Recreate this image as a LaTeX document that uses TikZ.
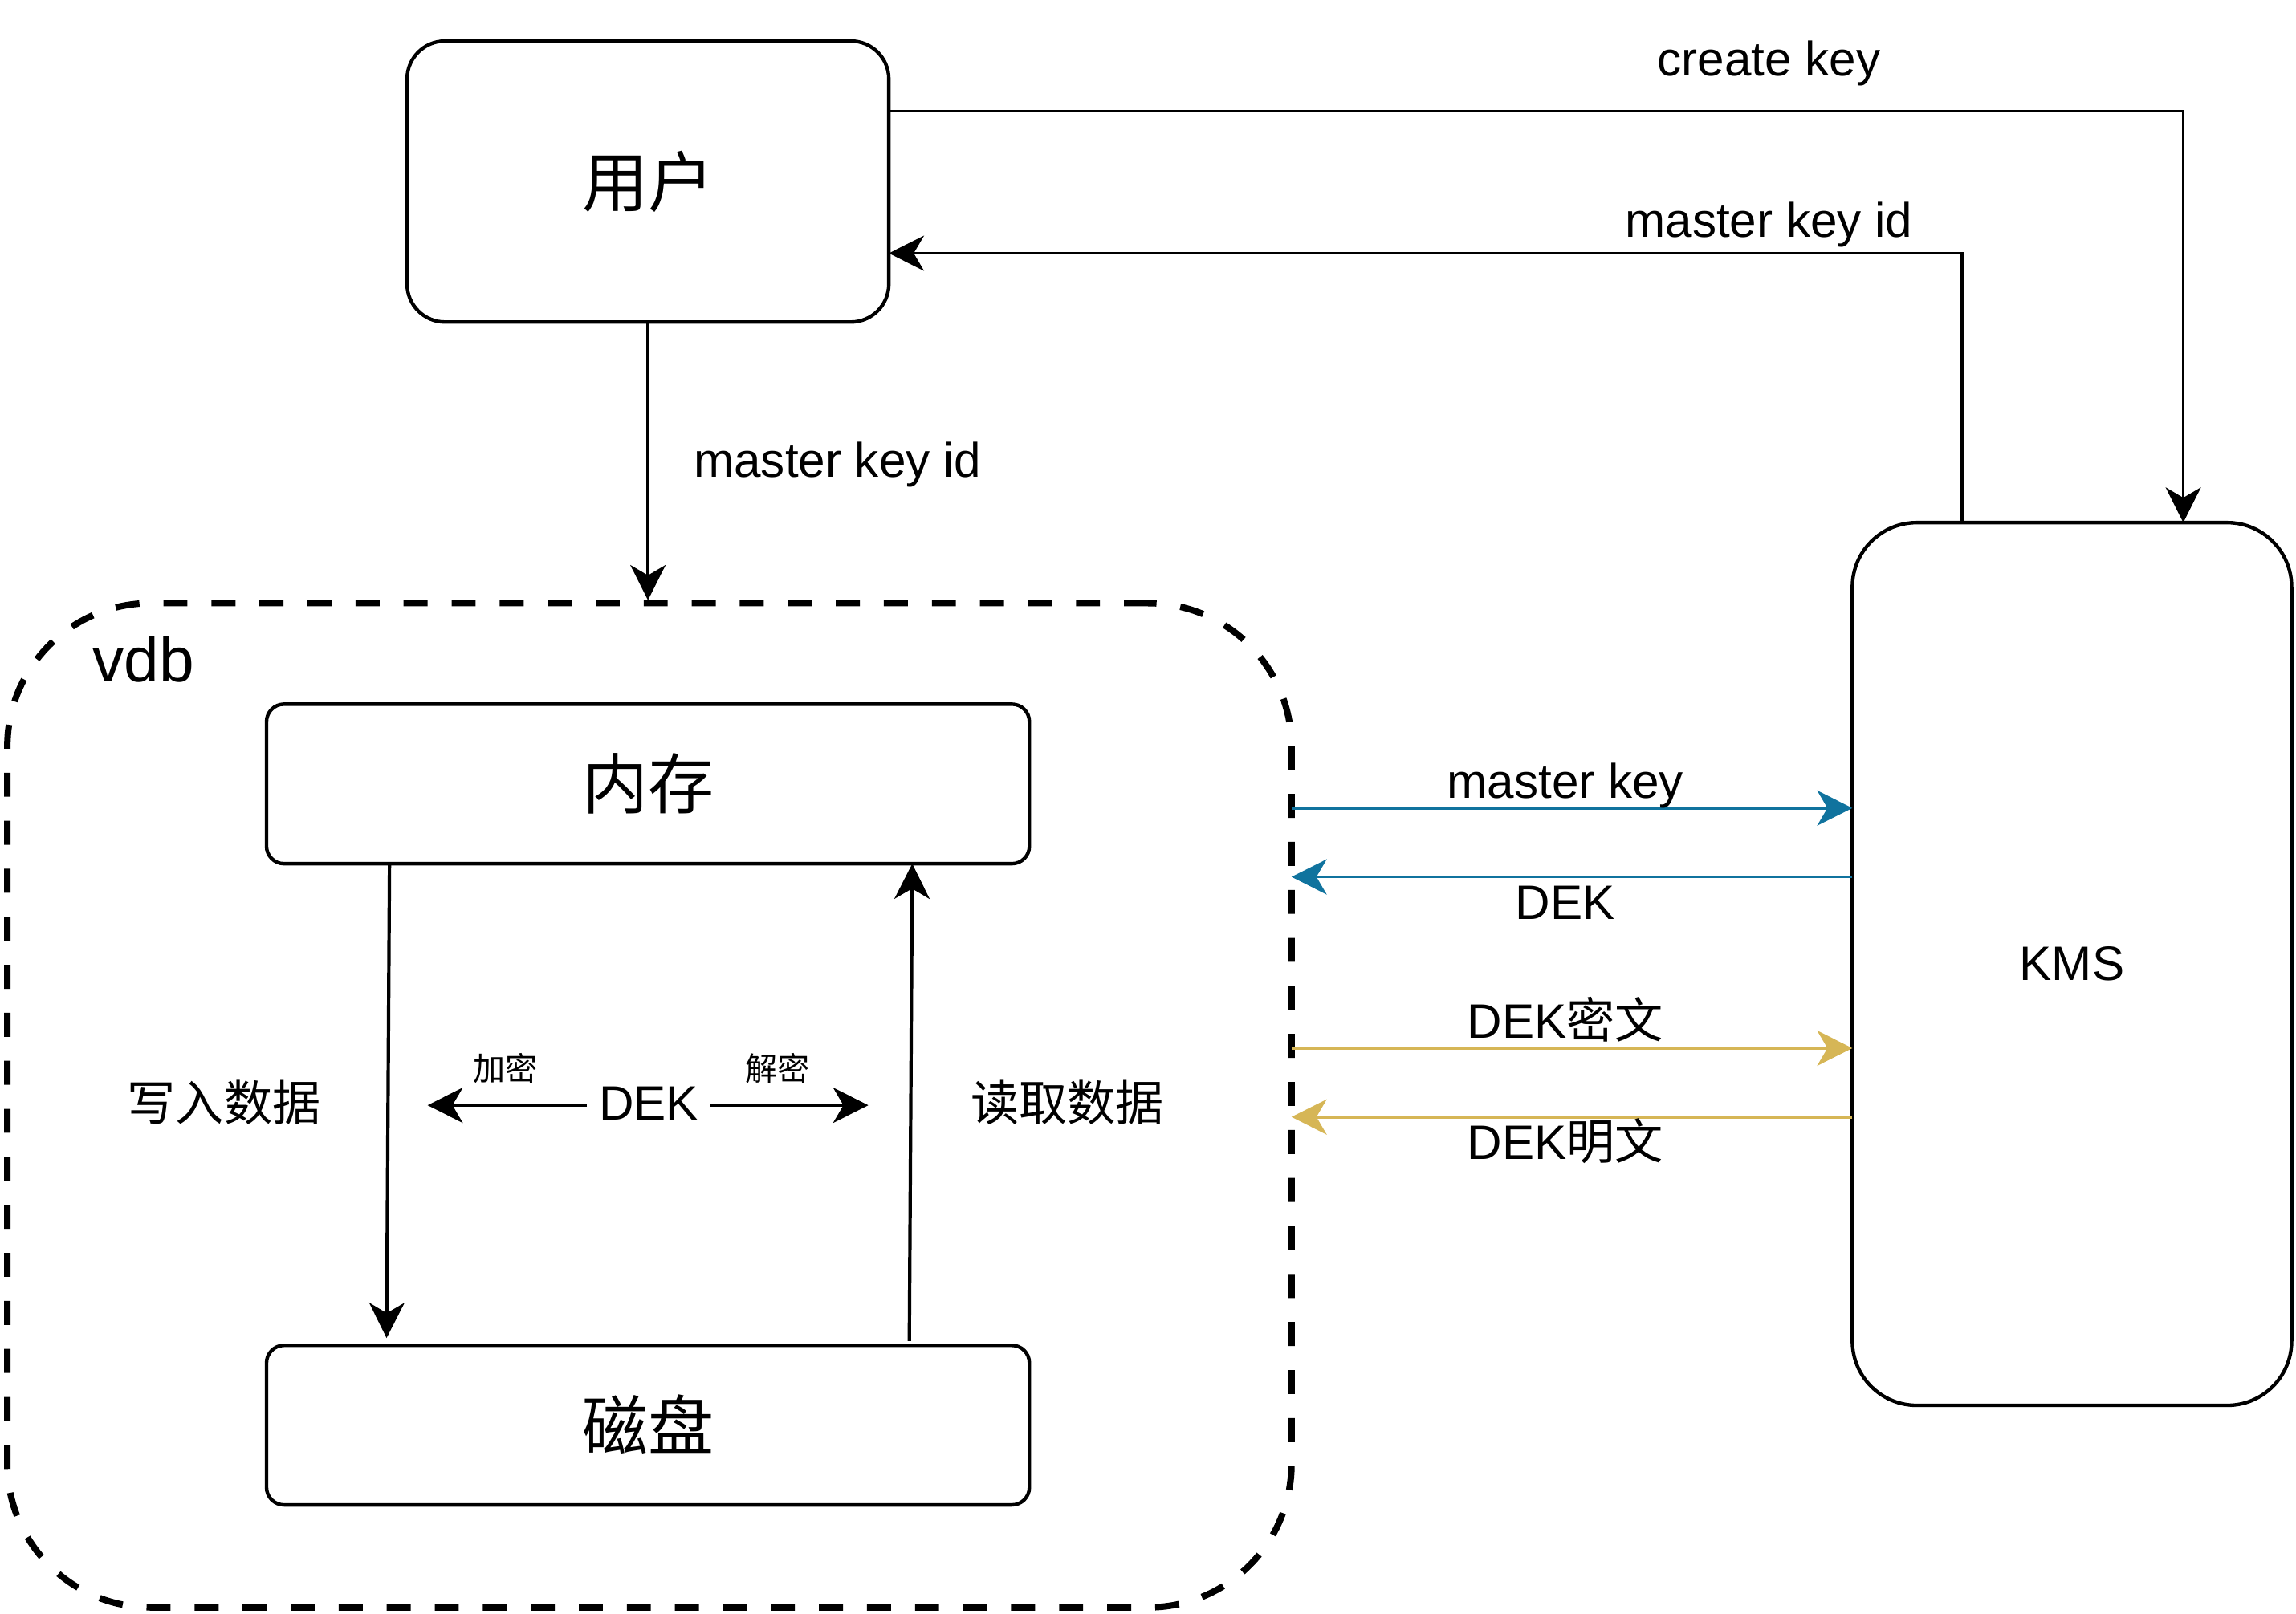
\documentclass[tikz,border=0pt]{standalone}
\usepackage{fontspec}
\setmainfont{Liberation Sans}
\newfontfamily\cjk{Noto Sans CJK SC}
\usetikzlibrary{arrows.meta}
\definecolor{dblue}{HTML}{10739E}
\definecolor{dyellow}{HTML}{D6B656}
\begin{document}
\begin{tikzpicture}[x=1pt,y=-1pt,
  box/.style={draw=black,line width=2.4pt,fill=white,inner sep=0pt,outer sep=0pt,align=center},
  lbl/.style={font=\fontsize{33pt}{40pt}\selectfont,inner sep=0pt},
  tipc/.style={-{Stealth[length=24pt,width=24pt,inset=7pt]}},
  arr/.style={tipc,line width=2pt,draw=black},
  arrin/.style={tipc,line width=2.3pt,draw=black},
  barr/.style={tipc,line width=2pt,draw=dblue,color=dblue},
  yarr/.style={tipc,line width=2pt,draw=dyellow,color=dyellow}]
\fill[white] (0,0) rectangle (1568,1102);
\useasboundingbox (0,0) rectangle (1568,1102);

% boxes
\node[box,rounded corners=26pt,minimum width=329pt,minimum height=192pt,font=\fontsize{45pt}{54pt}\selectfont\cjk] (user) at (442.5,124) {\raisebox{2pt}{用户}};
\node[box,rounded corners=44pt,minimum width=300pt,minimum height=603pt,font=\fontsize{33pt}{40pt}\selectfont] (kms) at (1415,658.5) {KMS};
\node[draw=black,line width=4.4pt,dash pattern=on 16.4pt off 16.4pt,rounded corners=98pt,inner sep=0pt,outer sep=0pt,minimum width=877pt,minimum height=686pt] (vdb) at (443.5,755) {};
\node[anchor=base west,inner sep=0pt,font=\fontsize{43pt}{50pt}\selectfont] (vdblbl) at (63,466) {vdb};
\node[box,rounded corners=12pt,minimum width=521pt,minimum height=109pt,font=\fontsize{45pt}{54pt}\selectfont\cjk] (mem) at (442.5,535.5) {\raisebox{2pt}{内存}};
\node[box,rounded corners=12pt,minimum width=521pt,minimum height=109pt,font=\fontsize{45pt}{54pt}\selectfont\cjk] (disk) at (442.5,973.5) {\raisebox{2pt}{磁盘}};

% user <-> kms
\draw[arr] ([yshift=48pt]user.east) -| ([xshift=76pt]kms.north);
\node[lbl,anchor=base] (lcreate) at (1208,52) {create key};
\draw[arr] ([xshift=-75pt]kms.north) |- ([yshift=-49pt]user.east);
\node[lbl,anchor=base] (lmkid1) at (1208,162) {master key id};

% user -> vdb
\draw[arr] (user.south) -- ([yshift=2pt]user.south |- vdb.north);
\node[lbl,anchor=base] (lmkid2) at (572,326) {master key id};

% vdb <-> kms
\draw[barr] (vdb.east |- 0,552) -- (kms.west |- 0,552);
\node[lbl,anchor=base] (lmk) at (1069,545) {master key};
\draw[barr] (kms.west |- 0,599) -- (vdb.east |- 0,599);
\node[lbl,anchor=base] (ldek) at (1069,628) {DEK};
\draw[yarr] (vdb.east |- 0,716) -- (kms.west |- 0,716);
\node[lbl,anchor=base] (ldekc) at (1069,709) {DEK{\cjk 密文}};
\draw[yarr] (kms.west |- 0,763) -- (vdb.east |- 0,763);
\node[lbl,anchor=base] (ldekp) at (1069,792) {DEK{\cjk 明文}};

% mem <-> disk
\draw[arrin] ([xshift=-176.5pt]mem.south) -- ([xshift=-178.5pt,yshift=5pt]disk.north);
\node[lbl,font=\fontsize{33pt}{40pt}\selectfont\cjk] (lwrite) at (153,753) {写入数据};
\draw[arrin] ([xshift=178.5pt,yshift=3pt]disk.north) -- ([xshift=180.5pt]mem.south);
\node[lbl,font=\fontsize{33pt}{40pt}\selectfont\cjk] (lread) at (729,753) {读取数据};

% DEK
\node[lbl,inner xsep=8pt] (dek) at (443,754) {DEK};
\coordinate (encL) at (292,755);
\coordinate (decR) at (593,755);
\draw[arrin] (dek.west |- encL) -- (encL);
\draw[arrin] (dek.east |- decR) -- (decR);
\node[inner sep=0pt,font=\fontsize{22pt}{26pt}\selectfont\cjk] (lenc) at (345,730) {加密};
\node[inner sep=0pt,font=\fontsize{22pt}{26pt}\selectfont\cjk] (ldec) at (531,730) {解密};
\end{tikzpicture}
\end{document}
